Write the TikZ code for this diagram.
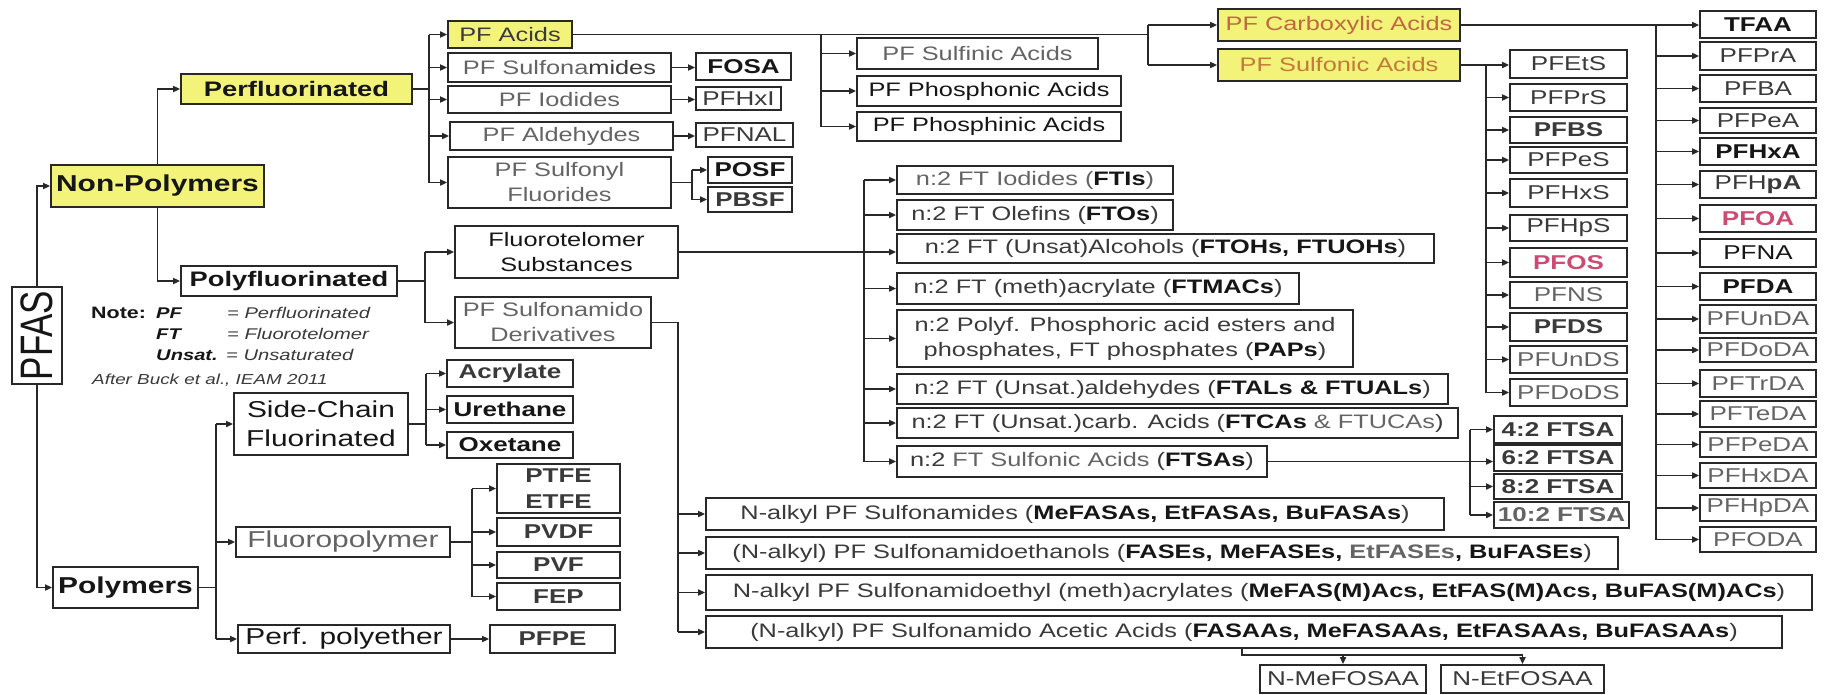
\documentclass[tikz,border=0pt]{standalone}
\usepackage{graphicx}
\usepackage{fontspec}
\setmainfont{Liberation Sans}[FakeStretch=1.3]
\newfontfamily\plainsans{Liberation Sans}
\usetikzlibrary{arrows.meta}
\definecolor{hl}{RGB}{242,243,120}
\definecolor{dk}{RGB}{22,22,22}
\definecolor{md}{RGB}{58,58,58}
\definecolor{gr}{RGB}{100,100,100}
\definecolor{bd}{RGB}{40,40,40}
\definecolor{lnc}{RGB}{40,40,40}
\definecolor{carbc}{RGB}{190,105,65}
\definecolor{sulfc}{RGB}{195,122,58}
\definecolor{pfred}{RGB}{205,75,115}
\newcommand\fs[1]{\fontsize{#1}{\the\dimexpr #1pt*32/25\relax}\selectfont}
\newcommand\bk[1]{{\bfseries\color{dk}#1}}
\newcommand\mkbox[7]{%
 \pgfmathsetmacro\mbX{(#2+#4)/2}%
 \pgfmathsetmacro\mbY{(#3+#5)/2}%
 \pgfmathsetmacro\mbW{#4-#2}%
 \pgfmathsetmacro\mbH{#5-#3}%
 \node[bx,minimum width=\mbW pt,minimum height=\mbH pt,#6] (#1) at (\mbX,\mbY) {#7};}
\tikzset{
 bx/.style={draw=bd, line width=1.8pt, inner sep=0pt, text=md, font=\fs{19.5}, align=center},
 ln/.style={draw=lnc, line width=1.8pt},
 arr/.style={ln, -{Triangle[length=7pt,width=6pt]}},
 hlb/.style={fill=hl},
 gry/.style={text=gr},
 cmp/.style={font=\fs{20}, text=md},
 cmpb/.style={font=\fs{20}\bfseries, text=dk},
 big/.style={font=\fs{23}},
 note/.style={anchor=base west, inner sep=0pt, text=md},
}
\begin{document}
\begin{tikzpicture}[x=1pt,y=-1pt]
\useasboundingbox[fill=white] (0,0) rectangle (1827,694);

% ---- main categories
\mkbox{pfas}{12}{287}{62}{384}{text=dk}{\rotatebox{90}{\scalebox{1}[1.3]{\plainsans\fontsize{35}{35}\selectfont PFAS}}}
\mkbox{nonpoly}{51}{165}{264}{207}{hlb,text=dk,font=\fs{23}\bfseries}{Non-Polymers}
\mkbox{perf}{181}{74}{412}{104}{hlb,text=dk,font=\fs{21}\bfseries}{Perfluorinated}
\mkbox{polyf}{181}{266}{397}{296}{text=dk,font=\fs{21}\bfseries}{Polyfluorinated}
\mkbox{polym}{53}{567}{198}{608}{text=dk,font=\fs{23}\bfseries}{Polymers}

% ---- perfluorinated children
\mkbox{acids}{448}{21}{572}{48}{hlb}{PF Acids}
\mkbox{sulfam}{448}{53}{671}{82}{gry}{PF Sulfona{\color{md}mides}}
\mkbox{iod}{448}{86}{671}{113}{gry}{PF Iodides}
\mkbox{ald}{450}{122}{673}{150}{gry}{PF Aldehydes}
\mkbox{sulfonyl}{448}{157}{671}{208}{gry}{PF Sulfonyl\\Fluorides}
\mkbox{fosa}{696}{53}{791}{80}{cmpb}{FOSA}
\mkbox{pfhxi}{696}{87}{781}{110}{cmp}{PFHxI}
\mkbox{pfnal}{696}{123}{793}{147}{cmp}{PFNAL}
\mkbox{posf}{708}{157}{792}{183}{cmpb}{POSF}
\mkbox{pbsf}{708}{187}{792}{212}{cmpb,text=md}{PBSF}

\mkbox{sulfin}{857}{38}{1098}{69}{gry}{PF Sulfinic Acids}
\mkbox{phosphon}{857}{76}{1121}{106}{text=dk}{PF Phosphonic Acids}
\mkbox{phosphin}{857}{112}{1121}{141}{text=dk}{PF Phosphinic Acids}
\mkbox{carb}{1218}{9}{1460}{41}{hlb,text=carbc}{PF Carboxylic Acids}
\mkbox{sulfon}{1218}{49}{1460}{81}{hlb,text=sulfc}{PF Sulfonic Acids}

% ---- sulfonic acids
\mkbox{pfets}{1510}{50}{1627}{78}{cmp}{PFEtS}
\mkbox{pfprs}{1510}{84}{1627}{111}{cmp}{PFPrS}
\mkbox{pfbs}{1510}{117}{1627}{143}{cmpb,text=md}{PFBS}
\mkbox{pfpes}{1510}{147}{1627}{173}{cmp}{PFPeS}
\mkbox{pfhxs}{1510}{179}{1627}{207}{cmp}{PFHxS}
\mkbox{pfhps}{1510}{215}{1627}{241}{cmp}{PFHpS}
\mkbox{pfos}{1510}{248}{1627}{277}{cmpb,text=pfred}{PFOS}
\mkbox{pfns}{1510}{282}{1627}{308}{cmp,text=gr}{PFNS}
\mkbox{pfds}{1510}{313}{1627}{341}{cmpb,text=md}{PFDS}
\mkbox{pfunds}{1510}{346}{1627}{373}{cmp,text=gr}{PFUnDS}
\mkbox{pfdods}{1510}{379}{1627}{406}{cmp,text=gr}{PFDoDS}

% ---- carboxylic acids
\mkbox{tfaa}{1700}{11}{1816}{38}{cmpb}{TFAA}
\mkbox{pfpra}{1700}{42}{1816}{70}{cmp}{PFPrA}
\mkbox{pfba}{1700}{75}{1816}{102}{cmp}{PFBA}
\mkbox{pfpea}{1700}{108}{1816}{133}{cmp}{PFPeA}
\mkbox{pfhxa}{1700}{138}{1816}{165}{cmpb}{PFHxA}
\mkbox{pfhpa}{1700}{171}{1816}{198}{cmp}{PFH\textbf{pA}}
\mkbox{pfoa}{1700}{205}{1816}{232}{cmpb,text=pfred}{PFOA}
\mkbox{pfna}{1700}{239}{1816}{267}{cmp,text=dk}{PFNA}
\mkbox{pfda}{1700}{273}{1816}{300}{cmpb}{PFDA}
\mkbox{pfunda}{1700}{305}{1816}{333}{cmp,text=gr}{PFUnDA}
\mkbox{pfdoda}{1700}{338}{1816}{362}{cmp,text=gr}{PFDoDA}
\mkbox{pftrda}{1700}{370}{1816}{397}{cmp,text=gr}{PFTrDA}
\mkbox{pfteda}{1700}{401}{1816}{427}{cmp,text=gr}{PFTeDA}
\mkbox{pfpeda}{1700}{432}{1816}{457}{cmp,text=gr}{PFPeDA}
\mkbox{pfhxda}{1700}{463}{1816}{488}{cmp,text=gr}{PFHxDA}
\mkbox{pfhpda}{1700}{495}{1816}{521}{cmp,text=gr}{PFHpDA}
\mkbox{pfoda}{1700}{527}{1816}{552}{cmp,text=gr}{PFODA}

% ---- polyfluorinated children
\mkbox{fts}{455}{226}{678}{278}{text=dk}{Fluorotelomer\\Substances}
\mkbox{sdd}{455}{297}{651}{348}{gry}{PF Sulfonamido\\Derivatives}

\mkbox{ftis}{897}{166}{1173}{194}{gry}{n:2 FT Iodides (\bk{FTIs})}
\mkbox{ftos}{897}{200}{1173}{230}{}{n:2 FT Olefins (\bk{FTOs})}
\mkbox{ftohs}{897}{234}{1434}{263}{}{n:2 FT (Unsat)Alcohols (\bk{FTOHs, FTUOHs})}
\mkbox{ftmacs}{897}{273}{1299}{304}{}{n:2 FT (meth)acrylate (\bk{FTMACs})}
\mkbox{paps}{897}{310}{1353}{367}{}{n:2 Polyf. Phosphoric acid esters and\\phosphates, FT phosphates (\bk{PAPs})}
\mkbox{ftals}{897}{374}{1448}{404}{}{n:2 FT (Unsat.)aldehydes (\bk{FTALs \& FTUALs})}
\mkbox{ftcas}{897}{408}{1458}{438}{}{n:2 FT (Unsat.)carb. Acids (\bk{FTCAs} {\color{gr}\& FTUCAs})}
\mkbox{ftsas}{897}{446}{1267}{477}{}{n:2 {\color{gr}FT Sulfonic Acids} (\bk{FTSAs})}

\mkbox{ft42}{1494}{416}{1622}{443}{cmpb,text=md}{4:2 FTSA}
\mkbox{ft62}{1494}{445}{1622}{471}{cmpb,text=md}{6:2 FTSA}
\mkbox{ft82}{1494}{474}{1622}{499}{cmpb,text=md}{8:2 FTSA}
\mkbox{ft102}{1494}{502}{1629}{528}{cmpb,text=gr}{10:2 FTSA}

\mkbox{nalk1}{706}{498}{1444}{530}{}{N-alkyl PF Sulfonamides (\bk{MeFASAs, EtFASAs, BuFASAs})}
\mkbox{nalk2}{706}{537}{1618}{569}{}{(N-alkyl) PF Sulfonamidoethanols (\bk{FASEs, MeFASEs, {\color{gr}EtFASEs}, BuFASEs})}
\mkbox{nalk3}{706}{575}{1812}{610}{}{N-alkyl PF Sulfonamidoethyl (meth)acrylates (\bk{MeFAS(M)Acs, EtFAS(M)Acs, BuFAS(M)ACs})}
\mkbox{nalk4}{706}{616}{1782}{648}{}{(N-alkyl) PF Sulfonamido Acetic Acids (\bk{FASAAs, MeFASAAs, EtFASAAs, BuFASAAs})}
\mkbox{nmefosaa}{1260}{665}{1426}{693}{font=\fs{20}}{N-MeFOSAA}
\mkbox{netfosaa}{1441}{665}{1604}{693}{font=\fs{20}}{N-EtFOSAA}

% ---- polymers children
\mkbox{sidech}{234}{393}{408}{455}{big,text=dk}{Side-Chain\\Fluorinated}
\mkbox{fluorop}{236}{527}{450}{557}{big,gry}{Fluoropolymer}
\mkbox{perfpe}{238}{625}{450}{653}{big,text=dk}{Perf. polyether}
\mkbox{acryl}{447}{360}{573}{387}{cmpb,text=md}{Acrylate}
\mkbox{ureth}{447}{396}{573}{423}{cmpb}{Urethane}
\mkbox{oxet}{447}{432}{573}{458}{cmpb}{Oxetane}
\mkbox{ptfe}{497}{464}{620}{513}{cmpb,text=md}{PTFE\\ETFE}
\mkbox{pvdf}{497}{518}{620}{546}{cmpb,text=md}{PVDF}
\mkbox{pvf}{497}{552}{620}{578}{cmpb,text=md}{PVF}
\mkbox{fep}{497}{583}{620}{610}{cmpb,text=md}{FEP}
\mkbox{pfpe}{490}{625}{615}{653}{cmpb,text=md}{PFPE}

% ---- note
\node[note,text=dk,font=\fs{16.5}\bfseries] (nt) at (91,318) {Note:};
\node[note,text=dk,font=\fs{15.5}\bfseries\itshape] (nt1) at (156,318) {PF};
\node[note,font=\fs{15.5}\itshape] (nt1b) at (227,318) {= Perfluorinated};
\node[note,text=dk,font=\fs{15.5}\bfseries\itshape] (nt2) at (156,339) {FT};
\node[note,font=\fs{15.5}\itshape] (nt2b) at (227,339) {= Fluorotelomer};
\node[note,text=dk,font=\fs{15.5}\bfseries\itshape] (nt3) at (156,360) {Unsat.};
\node[note,font=\fs{15.5}\itshape] (nt3b) at (226,360) {= Unsaturated};
\node[note,font=\fs{14.5}\itshape] (nt4) at (92,384) {After Buck et al., IEAM 2011};

% ---- connectors: top level
\draw[arr] (pfas.north) |- (nonpoly.west);
\draw[arr] (pfas.south) |- (polym.west);
\draw[arr] (nonpoly.north) |- (perf.west);
\draw[arr] (nonpoly.south) |- (polyf.west);

% perfluorinated branch
\coordinate (pb) at (429,0);
\draw[ln] (perf.east) -- (perf.east -| pb);
\draw[ln] (pb |- acids.west) -- (pb |- sulfonyl.west);
\foreach \n in {acids,sulfam,iod,ald,sulfonyl} \draw[arr] (pb |- \n.west) -- (\n.west);
\draw[arr] (sulfam.east) -- (sulfam.east -| fosa.west);
\draw[arr] (iod.east) -- (iod.east -| pfhxi.west);
\draw[arr] (ald.east) -- (ald.east -| pfnal.west);
\coordinate (sfb) at (692,0);
\draw[ln] (sulfonyl.east) -- (sulfonyl.east -| sfb);
\draw[ln] (sfb |- posf.west) -- (sfb |- pbsf.west);
\draw[arr] (sfb |- posf.west) -- (posf.west);
\draw[arr] (sfb |- pbsf.west) -- (pbsf.west);

% PF acids
\coordinate (ab) at (1148,0);
\coordinate (sb) at (821,0);
\draw[ln] (acids.east) -- (acids.east -| ab);
\draw[ln] (ab |- carb.west) -- (ab |- sulfon.west);
\draw[arr] (ab |- carb.west) -- (carb.west);
\draw[arr] (ab |- sulfon.west) -- (sulfon.west);
\draw[ln] (acids.east -| sb) -- (sb |- phosphin.west);
\foreach \n in {sulfin,phosphon,phosphin} \draw[arr] (sb |- \n.west) -- (\n.west);

% carboxylic
\coordinate (cbx) at (1656,0);
\draw[arr] (carb.east) -- (carb.east -| tfaa.west);
\draw[ln] (carb.east -| cbx) -- (cbx |- pfoda.west);
\foreach \n in {pfpra,pfba,pfpea,pfhxa,pfhpa,pfoa,pfna,pfda,pfunda,pfdoda,pftrda,pfteda,pfpeda,pfhxda,pfhpda,pfoda}
  \draw[arr] (cbx |- \n.west) -- (\n.west);

% sulfonic
\coordinate (sfx) at (1486,0);
\draw[arr] (sulfon.east) -- (sulfon.east -| pfets.west);
\draw[ln] (sulfon.east -| sfx) -- (sfx |- pfdods.west);
\foreach \n in {pfprs,pfbs,pfpes,pfhxs,pfhps,pfos,pfns,pfds,pfunds,pfdods}
  \draw[arr] (sfx |- \n.west) -- (\n.west);

% polyfluorinated
\coordinate (pfb) at (425,0);
\draw[ln] (polyf.east) -- (polyf.east -| pfb);
\draw[ln] (pfb |- fts.west) -- (pfb |- sdd.west);
\draw[arr] (pfb |- fts.west) -- (fts.west);
\draw[arr] (pfb |- sdd.west) -- (sdd.west);

% fluorotelomers
\coordinate (ftx) at (864,0);
\draw[arr] (fts.east) -- (fts.east -| ftohs.west);
\draw[ln] (ftx |- ftis.west) -- (ftx |- ftsas.west);
\foreach \n in {ftis,ftos,ftmacs,paps,ftals,ftcas,ftsas} \draw[arr] (ftx |- \n.west) -- (\n.west);
\coordinate (fsx) at (1470,0);
\draw[arr] (ftsas.east) -- (ftsas.east -| ft62.west);
\draw[ln] (fsx |- ft42.west) -- (fsx |- ft102.west);
\foreach \n in {ft42,ft82,ft102} \draw[arr] (fsx |- \n.west) -- (\n.west);

% sulfonamido derivatives
\coordinate (sdx) at (678,0);
\draw[ln] (sdd.east) -- (sdd.east -| sdx) -- (sdx |- nalk4.west);
\foreach \n in {nalk1,nalk2,nalk3,nalk4} \draw[arr] (sdx |- \n.west) -- (\n.west);
\coordinate (nb) at (1242,655);
\draw[ln] (nalk4.south -| nb) -- (nb) -- (nb -| netfosaa.north);
\draw[arr] (nb -| nmefosaa.north) -- (nmefosaa.north);
\draw[arr] (nb -| netfosaa.north) -- (netfosaa.north);

% polymers
\coordinate (pyx) at (216,0);
\draw[ln] (polym.east) -- (polym.east -| pyx);
\draw[ln] (pyx |- sidech.west) -- (pyx |- perfpe.west);
\foreach \n in {sidech,fluorop,perfpe} \draw[arr] (pyx |- \n.west) -- (\n.west);
\coordinate (scx) at (426,0);
\draw[ln] (sidech.east) -- (sidech.east -| scx);
\draw[ln] (scx |- acryl.west) -- (scx |- oxet.west);
\foreach \n in {acryl,ureth,oxet} \draw[arr] (scx |- \n.west) -- (\n.west);
\coordinate (fpx) at (472,0);
\draw[ln] (fluorop.east) -- (fluorop.east -| fpx);
\draw[ln] (fpx |- ptfe.west) -- (fpx |- fep.west);
\foreach \n in {ptfe,pvdf,pvf,fep} \draw[arr] (fpx |- \n.west) -- (\n.west);
\draw[arr] (perfpe.east) -- (perfpe.east -| pfpe.west);
\end{tikzpicture}
\end{document}
